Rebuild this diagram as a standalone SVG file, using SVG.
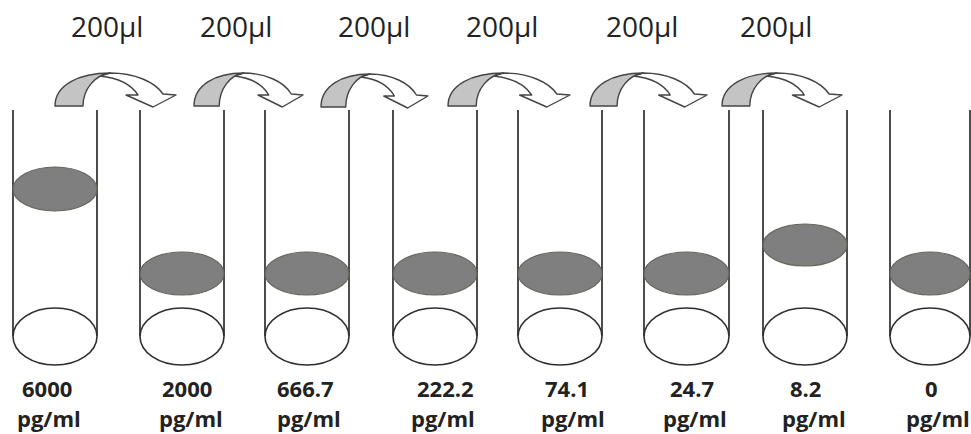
<svg xmlns="http://www.w3.org/2000/svg" xmlns:xlink="http://www.w3.org/1999/xlink" width="971" height="434" viewBox="0 0 971 434">
<style>
.wall{stroke:#2e2e2e;stroke-width:1.7;fill:none}
.base{fill:#fff;stroke:#2e2e2e;stroke-width:1.6}
.liq{fill:#7f7f7f;stroke:#66665c;stroke-width:1.2}
.vol{font-family:"Open Sans","Liberation Sans",sans-serif;font-size:28px;fill:#222}
.conc{font-family:"Open Sans","Liberation Sans",sans-serif;font-size:22px;font-weight:bold;fill:#222}
.ag{fill:#c4c4c4;stroke:#444;stroke-width:1.4;vector-effect:non-scaling-stroke;stroke-linejoin:round}
.aw{fill:#fff;stroke:#444;stroke-width:1.4;vector-effect:non-scaling-stroke;stroke-linejoin:round}
</style>
<defs>
<g id="arr">
<path class="aw" d="M55,0 C80,0 100,9 108,21 L121,22 L98,34 L71,22 L83,22 C76,11 64,5 45,3 Z"/>
<path class="ag" d="M0,33 C0,12 24,0 55,0 C40,2 28,16 28,33 Z"/>
</g>
</defs>
<rect width="971" height="434" fill="#fff"/>
<g id="labels-top">
<text class="vol" x="71" y="37">200µl</text>
<text class="vol" x="200" y="37">200µl</text>
<text class="vol" x="338" y="37">200µl</text>
<text class="vol" x="466" y="37">200µl</text>
<text class="vol" x="606" y="37">200µl</text>
<text class="vol" x="740" y="37">200µl</text>
</g>
<g id="connectors">
<use href="#arr" transform="translate(55,73) scale(1,1)"/>
<use href="#arr" transform="translate(194,73) scale(0.901,1)"/>
<use href="#arr" transform="translate(321,74) scale(0.884,1)"/>
<use href="#arr" transform="translate(448,73) scale(1.008,1)"/>
<use href="#arr" transform="translate(590,73) scale(0.967,1)"/>
<use href="#arr" transform="translate(722,73) scale(0.992,1)"/>
</g>
<g id="tube1">
<path class="wall" d="M13,110V336M97,110V336"/>
<ellipse class="base" cx="55" cy="336.5" rx="42" ry="28.5"/>
<ellipse class="liq" cx="55" cy="189" rx="42" ry="22"/>
<text class="conc" x="22" y="397">6000</text>
<text class="conc" x="17" y="427">pg/ml</text>
</g>
<g id="tube2">
<path class="wall" d="M140,110V336M224,110V336"/>
<ellipse class="base" cx="182" cy="336.5" rx="42" ry="28.5"/>
<ellipse class="liq" cx="182" cy="273.5" rx="42" ry="21.5"/>
<text class="conc" x="162" y="397">2000</text>
<text class="conc" x="159" y="427">pg/ml</text>
</g>
<g id="tube3">
<path class="wall" d="M265,110V336M349,110V336"/>
<ellipse class="base" cx="307" cy="336.5" rx="42" ry="28.5"/>
<ellipse class="liq" cx="307" cy="273.5" rx="42" ry="21.5"/>
<text class="conc" x="277" y="397">666.7</text>
<text class="conc" x="277" y="427">pg/ml</text>
</g>
<g id="tube4">
<path class="wall" d="M393,110V336M477,110V336"/>
<ellipse class="base" cx="435" cy="336.5" rx="42" ry="28.5"/>
<ellipse class="liq" cx="435" cy="273.5" rx="42" ry="21.5"/>
<text class="conc" x="417" y="397">222.2</text>
<text class="conc" x="411" y="427">pg/ml</text>
</g>
<g id="tube5">
<path class="wall" d="M518,110V336M602,110V336"/>
<ellipse class="base" cx="560" cy="336.5" rx="42" ry="28.5"/>
<ellipse class="liq" cx="560" cy="273.5" rx="42" ry="21.5"/>
<text class="conc" x="545" y="397">74.1</text>
<text class="conc" x="541" y="427">pg/ml</text>
</g>
<g id="tube6">
<path class="wall" d="M644,110V336M729,110V336"/>
<ellipse class="base" cx="686.5" cy="336.5" rx="42.5" ry="28.5"/>
<ellipse class="liq" cx="686.5" cy="273.5" rx="42.5" ry="21.5"/>
<text class="conc" x="670" y="397">24.7</text>
<text class="conc" x="663" y="427">pg/ml</text>
</g>
<g id="tube7">
<path class="wall" d="M763,110V336M847,110V336"/>
<ellipse class="base" cx="805" cy="336.5" rx="42" ry="28.5"/>
<ellipse class="liq" cx="805" cy="245" rx="42" ry="21"/>
<text class="conc" x="790" y="397">8.2</text>
<text class="conc" x="782" y="427">pg/ml</text>
</g>
<g id="tube8">
<path class="wall" d="M890,110V336M970,110V336"/>
<ellipse class="base" cx="930" cy="336.5" rx="40" ry="28.5"/>
<ellipse class="liq" cx="930" cy="273.5" rx="40" ry="21.5"/>
<text class="conc" x="925" y="397">0</text>
<text class="conc" x="906" y="427">pg/ml</text>
</g>
</svg>
